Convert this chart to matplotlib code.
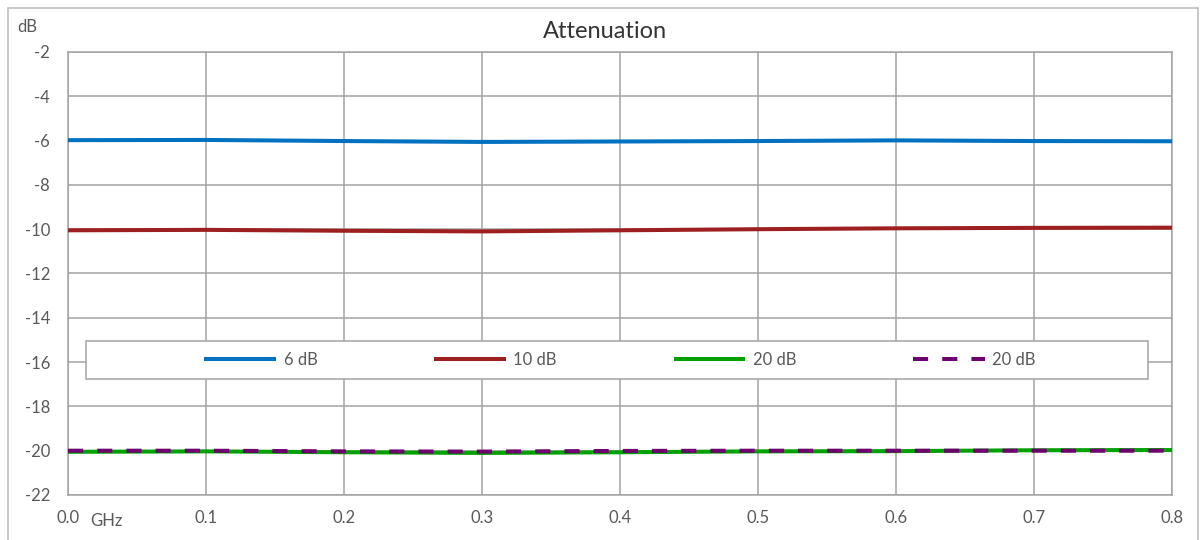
import matplotlib
matplotlib.use("Agg")
import matplotlib.pyplot as plt
from matplotlib.patches import Rectangle

plt.rcParams['font.family'] = ['Lato', 'DejaVu Sans']

# frequency in GHz
freq = [0.0, 0.1, 0.2, 0.3, 0.4, 0.5, 0.6, 0.7, 0.8]

att_6db = [-5.98, -5.97, -6.02, -6.06, -6.04, -6.02, -5.99, -6.02, -6.03]
att_10db = [-10.05, -10.03, -10.07, -10.10, -10.05, -10.00, -9.96, -9.94, -9.93]
att_20db_a = [-20.05, -20.03, -20.07, -20.10, -20.07, -20.03, -20.02, -19.98, -19.97]
att_20db_b = [-20.00, -20.00, -20.03, -20.04, -20.01, -20.00, -20.00, -20.00, -20.00]

series_labels = ['6 dB', '10 dB', '20 dB', '20 dB']
series_colors = ['#0070c0', '#9e1f1f', '#00a000', '#6f006f']

x_ticks = [0.0, 0.1, 0.2, 0.3, 0.4, 0.5, 0.6, 0.7, 0.8]
y_ticks = [-22, -20, -18, -16, -14, -12, -10, -8, -6, -4, -2]

W, H = 1204, 540
fig = plt.figure(figsize=(W / 100, H / 100), dpi=100)
fig.patch.set_facecolor('white')

# outer chart border
fig.patches.append(Rectangle((8 / W, -0.01), 1190 / W, 1 - 8 / H + 0.01,
                             transform=fig.transFigure, facecolor='none',
                             edgecolor='#bfbfbf', linewidth=1.2, zorder=-1))

ax = fig.add_axes([68 / W, 1 - 495 / H, 1104 / W, 443 / H])
ax.set_facecolor('none')

grid_color = '#a3a3a3'
data = [att_6db, att_10db, att_20db_a, att_20db_b]
for i, vals in enumerate(data):
    if i == 3:
        ax.plot(freq, vals, color=series_colors[i], linewidth=2.9,
                dashes=(3.75, 3.5), label=series_labels[i], zorder=4)
    else:
        ax.plot(freq, vals, color=series_colors[i], linewidth=2.9,
                solid_capstyle='butt', label=series_labels[i], zorder=3)

ax.set_xlim(0, 0.8)
ax.set_ylim(-22, -2)
ax.set_xticks(x_ticks)
ax.set_xticklabels(['%.1f' % v for v in x_ticks])
ax.set_yticks(y_ticks)
ax.set_yticklabels(['%d' % v for v in y_ticks])
ax.grid(True, color=grid_color, linewidth=1.1)
ax.set_axisbelow(True)
for s in ax.spines.values():
    s.set_color(grid_color)
    s.set_linewidth(1.1)
ax.tick_params(length=0, labelsize=12, labelcolor='#595959')
ax.tick_params(axis='y', pad=13)
ax.tick_params(axis='x', pad=11)

ax.text(22 / 1104, -(521 - 495) / 443, 'GHz', transform=ax.transAxes,
        fontsize=12, color='#595959', ha='left', va='center')
fig.text(17 / W, 1 - 27 / H, 'dB', fontsize=12, color='#595959',
         ha='left', va='center')
fig.text(605 / W, 1 - 32 / H, 'Attenuation', fontsize=17, color='#333333',
         ha='center', va='center')

# legend box
ax.add_patch(Rectangle(((86 - 68) / 1104, (495 - 379) / 443), 1062 / 1104, 38 / 443,
                       transform=ax.transAxes, facecolor='white',
                       edgecolor=grid_color, linewidth=1.1, zorder=5,
                       clip_on=False))
leg = ax.legend(loc='center', bbox_to_anchor=((620 - 68) / 1104, (495 - 360) / 443),
                ncol=4, frameon=False, fontsize=12, handlelength=4.3,
                handletextpad=0.45, columnspacing=7.0, labelcolor='#595959')
leg.set_zorder(6)

fig.savefig('out.png', dpi=100)
